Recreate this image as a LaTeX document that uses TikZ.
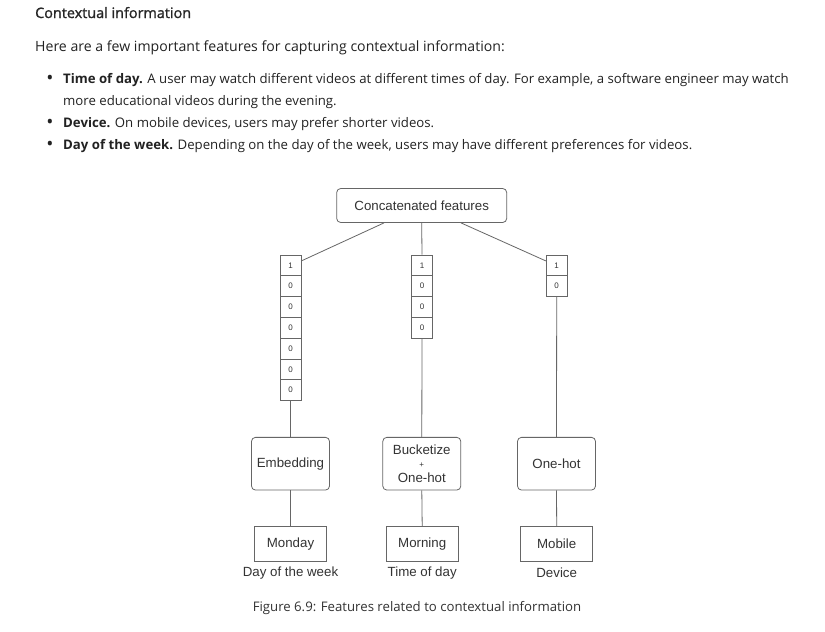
\documentclass[tikz,border=0pt]{standalone}
\usepackage{fontspec}
\setmainfont{Open Sans}
\newfontfamily\diafont{Liberation Sans}
\newfontfamily\headfont{Open Sans}[FakeBold=1.2]
\definecolor{txtgray}{HTML}{222222}
\definecolor{linegray}{HTML}{666666}
\definecolor{diatext}{HTML}{333333}

\begin{document}
\begin{tikzpicture}[x=1pt, y=-1pt,
    webtext/.style={anchor=base west, inner sep=0pt, text=txtgray, font=\fontsize{13.2}{15}\selectfont},
    dot/.style={anchor=base, inner sep=0pt, text=txtgray, font=\fontsize{19}{19}\selectfont},
    box/.style={draw=linegray, line width=0.8pt, text=diatext, font=\diafont\fontsize{13.3}{15.5}\selectfont, inner sep=2pt},
    roundbox/.style={box, rounded corners=4pt},
    cell/.style={draw=linegray, line width=0.8pt, minimum width=21pt, minimum height=20.8pt, inner sep=0pt, text=diatext, font=\diafont\fontsize{8}{9}\selectfont},
    caption/.style={inner sep=0pt, text=diatext, font=\diafont\fontsize{13.3}{15.5}\selectfont},
    link/.style={draw=linegray, line width=0.8pt}]
    \useasboundingbox[fill=white] (0,0) rectangle (825,632);

    \node[webtext, font=\headfont\fontsize{14.4}{16}\selectfont, text=black!85] (title) at (35,18) {Contextual information};
    \node[webtext, font=\fontsize{14.1}{16}\selectfont] (intro) at (35,51) {Here are a few important features for capturing contextual information:};
    \node[dot] (b1) at (50,84.5) {\textbullet};
    \node[webtext] (t1) at (63,83) {\textbf{Time of day.} A user may watch different videos at different times of day. For example, a software engineer may watch};
    \node[webtext] (t1b) at (63,105) {more educational videos during the evening.};
    \node[dot] (b2) at (50,128.5) {\textbullet};
    \node[webtext] (t2) at (63,127) {\textbf{Device.} On mobile devices, users may prefer shorter videos.};
    \node[dot] (b3) at (50,150.5) {\textbullet};
    \node[webtext] (t3) at (63,149) {\textbf{Day of the week.} Depending on the day of the week, users may have different preferences for videos.};

    \node[roundbox, minimum width=170pt, minimum height=34pt] (concat) at (421.7,205.5) {Concatenated features};

    \foreach \v [count=\i] in {1,0,0,0,0,0,0}
        \node[cell] (dw\i) at (290.5,{265.4+20.8*(\i-1)}) {\v};
    \foreach \v [count=\i] in {1,0,0,0}
        \node[cell] (td\i) at (422,{265.4+20.8*(\i-1)}) {\v};
    \foreach \v [count=\i] in {1,0}
        \node[cell] (dv\i) at (556.7,{265.4+20.8*(\i-1)}) {\v};

    \node[roundbox, minimum width=78pt, minimum height=52.7pt] (emb) at (290.5,463.7) {Embedding};
    \node[roundbox, minimum width=78pt, minimum height=52.7pt, align=center] (buck) at (421.8,463.7) {Bucketize\\[-2pt]{\fontsize{8}{9}\selectfont +}\\[-1pt]One-hot};
    \node[roundbox, minimum width=78pt, minimum height=52.7pt] (onehot) at (556.5,463.7) {One-hot};

    \node[box, minimum width=72.3pt, minimum height=34.3pt] (mon) at (290.5,543.8) {Monday};
    \node[box, minimum width=72.3pt, minimum height=34.3pt] (morn) at (422.2,543.8) {Morning};
    \node[box, minimum width=72.3pt, minimum height=34.3pt] (mob) at (556.7,543.8) {Mobile};

    \node[caption] (ldw) at (290.5,572.7) {Day of the week};
    \node[caption] (ltd) at (422.2,572.7) {Time of day};
    \node[caption] (ldv) at (556.7,572.7) {Device};

    \node[inner sep=0pt, text=diatext, font=\fontsize{13.2}{15}\selectfont] (fig) at (417,608.5) {Figure 6.9: Features related to contextual information};

    \draw[link] ([xshift=-37.7pt]concat.south) -- ([yshift=4.5pt]dw1.east);
    \draw[link] (concat.south) -- (td1.north);
    \draw[link] ([xshift=39.3pt]concat.south) -- ([yshift=4.5pt]dv1.west);

    \draw[link] (dw7.south) -- (emb.north);
    \draw[link] (td4.south) -- (buck.north);
    \draw[link] (dv2.south) -- (onehot.north);

    \draw[link] (emb.south) -- (mon.north);
    \draw[link] (buck.south) -- (morn.north);
    \draw[link] (onehot.south) -- (mob.north);
\end{tikzpicture}
\end{document}
